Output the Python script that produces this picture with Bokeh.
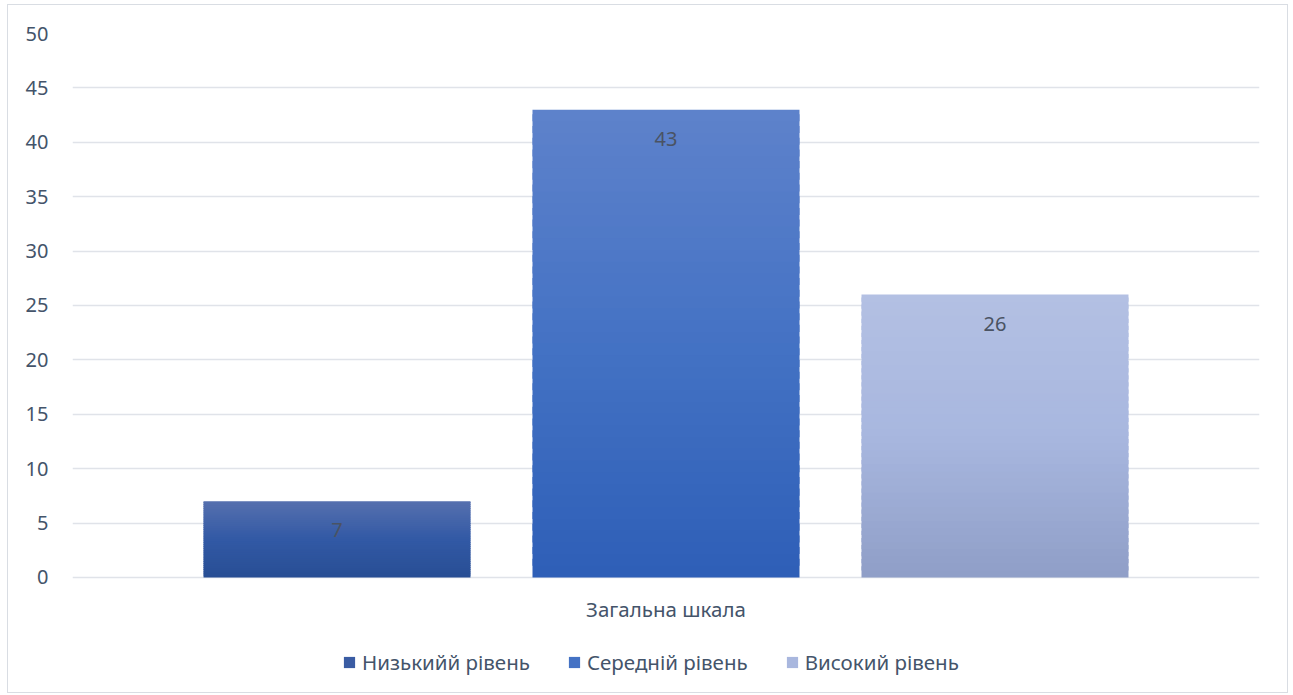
from bokeh.plotting import figure
from bokeh.models import (Range1d, FixedTicker, Legend, LegendItem, ColumnDataSource, LabelSet, Label)
from bokeh.core.properties import value
from bokeh.embed import file_html
from bokeh.resources import INLINE

# ---- data ----
category = "Загальна шкала"
series = ["Низькийй рівень", "Середній рівень", "Високий рівень"]
values = [7, 43, 26]
y_ticks = [0, 5, 10, 15, 20, 25, 30, 35, 40, 45, 50]

# ---- styles ----
grad_top = ["#5670ae", "#5e82cb", "#b3c0e3"]
grad_mid = ["#3259a5", "#4472c4", "#a8b7df"]
grad_bot = ["#284e94", "#2e5fb7", "#8f9ec7"]
legend_col = ["#3a5ca3", "#4472c4", "#a9b7de"]
text_col = "#44546A"
font = "Noto Sans"


def hex2rgb(h):
    h = h.lstrip("#")
    return tuple(int(h[i:i + 2], 16) for i in (0, 2, 4))


def mix(a, b, t):
    ra, rb = hex2rgb(a), hex2rgb(b)
    return "#%02x%02x%02x" % tuple(int(round(ra[i] + (rb[i] - ra[i]) * t)) for i in range(3))


def grad(bot, mid, top, t):
    if t < 0.5:
        return mix(bot, mid, t / 0.5)
    return mix(mid, top, (t - 0.5) / 0.5)


xs = [-1, 0, 1]
bar_w = 267 / 329

# frame extends below 0 so the category label and legend sit inside it
p = figure(width=1281, height=689, output_backend="svg", toolbar_location=None,
           x_range=Range1d(-1.804, 1.804), y_range=Range1d(-10.754, 50),
           min_border_left=64, min_border_top=28, min_border_right=30, min_border_bottom=0)
p.styles = {"border": "1px solid #d9dde3"}
p.margin = (4, 0, 0, 7)
p.outline_line_color = None
p.background_fill_color = "white"
p.border_fill_color = "white"

# gradient bars made of overlapping slices (bottom to top)
N = 40
bx, bb, bt, bc = [], [], [], []
for i, v in enumerate(values):
    for k in range(N):
        bx.append(xs[i])
        bb.append(v * k / N)
        bt.append(min(v, v * (k + 1.6) / N))
        bc.append(grad(grad_bot[i], grad_mid[i], grad_top[i], (k + 0.5) / N))
src = ColumnDataSource(dict(x=bx, bottom=bb, top=bt, color=bc))
p.vbar(x="x", bottom="bottom", top="top", width=bar_w, fill_color="color",
       line_color=None, source=src)

# legend proxies
items = []
for i, name in enumerate(series):
    r = p.vbar(x=[xs[i]], bottom=[0], top=[0], width=bar_w, fill_color=legend_col[i], line_color=None)
    items.append(LegendItem(label=name, renderers=[r]))

# data labels
lsrc = ColumnDataSource(dict(x=xs, y=values, t=[str(v) for v in values]))
p.add_layout(LabelSet(x="x", y="y", text="t", source=lsrc, y_offset=-29,
                      text_align="center", text_baseline="middle",
                      text_font_size="20px", text_color="#4a5363", text_font=value(font)))

# category label below the bars
p.add_layout(Label(x=0, y=-2.85, text=category, text_align="center",
                   text_baseline="middle", text_font_size="20.5px", text_color=text_col,
                   text_font=font))

# grid
p.xgrid.visible = False
p.ygrid.ticker = FixedTicker(ticks=y_ticks)
p.ygrid.grid_line_color = "#e0e3e9"
p.ygrid.grid_line_width = 1.5
p.ygrid.level = "underlay"

# y axis
p.yaxis.ticker = FixedTicker(ticks=y_ticks)
p.yaxis.axis_line_color = None
p.yaxis.major_tick_line_color = None
p.yaxis.minor_tick_line_color = None
p.yaxis.major_label_standoff = 18
p.yaxis.major_label_text_font_size = "20px"
p.yaxis.major_label_text_color = text_col
p.yaxis.major_label_text_font = font

p.xaxis.visible = False

legend = Legend(items=items, orientation="horizontal", location=(270, 18),
                label_text_font_size="20.5px", label_text_color=text_col, label_text_font=font,
                glyph_width=14, glyph_height=14, label_standoff=6, spacing=37,
                border_line_color=None, background_fill_alpha=0, margin=0, padding=0)
p.add_layout(legend, "center")

open("out.html", "w").write(file_html(p, INLINE))
